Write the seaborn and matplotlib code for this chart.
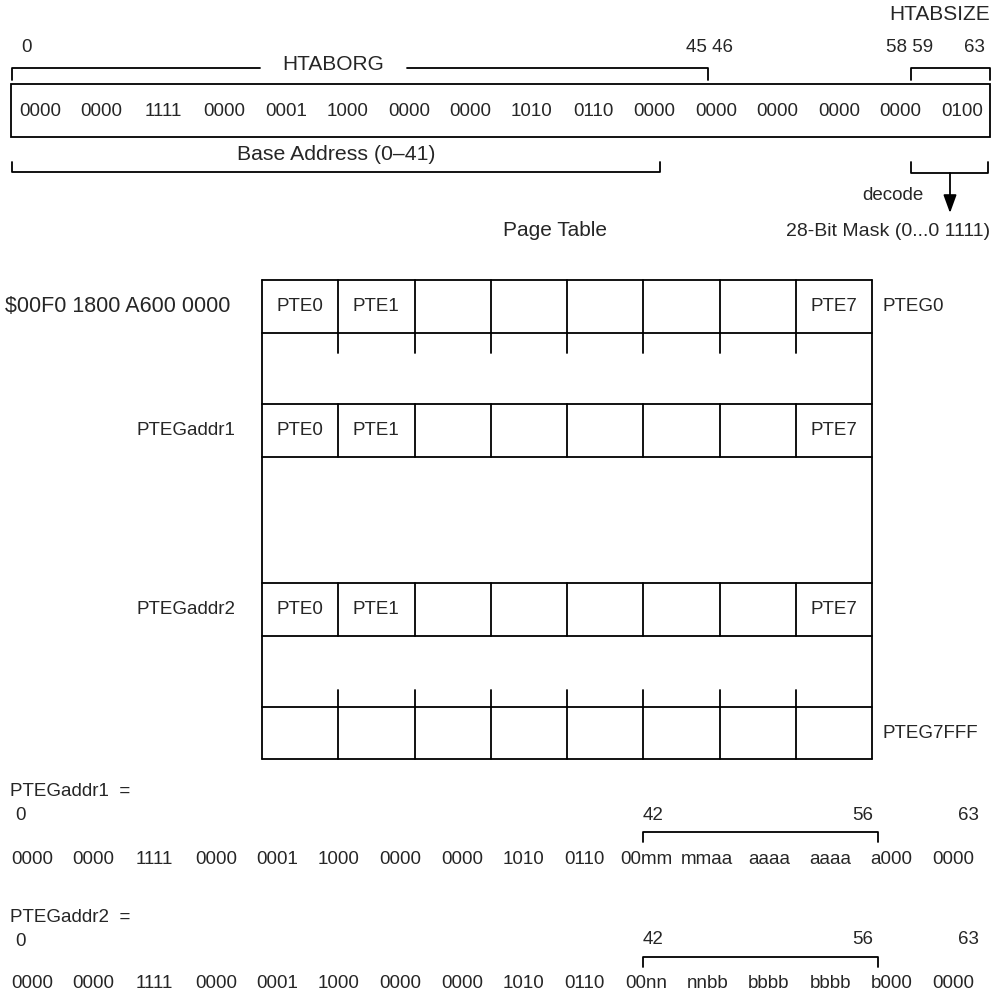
import numpy as np
import seaborn as sns
import matplotlib.pyplot as plt
from matplotlib.patches import Rectangle

# register contents (nibbles)
htab_bits = ["0000", "0000", "1111", "0000", "0001", "1000", "0000", "0000",
             "1010", "0110", "0000", "0000", "0000", "0000", "0000", "0100"]
addr1_bits = ["0000", "0000", "1111", "0000", "0001", "1000", "0000", "0000",
              "1010", "0110", "00mm", "mmaa", "aaaa", "aaaa", "a000", "0000"]
addr2_bits = ["0000", "0000", "1111", "0000", "0001", "1000", "0000", "0000",
              "1010", "0110", "00nn", "nnbb", "bbbb", "bbbb", "b000", "0000"]

# page table
pte_labels = ["PTE0", "PTE1", "", "", "", "", "", "PTE7"]
group_names = ["$00F0 1800 A600 0000", "PTEGaddr1", "PTEGaddr2", ""]
group_tags = ["PTEG0", "", "", "PTEG7FFF"]
group_has_ptes = [True, True, True, False]

sns.set_style("white")
plt.rcParams["font.family"] = ["Liberation Sans", "DejaVu Sans"]

fig = plt.figure(figsize=(9.93, 9.94), dpi=100)
ax = fig.add_axes([0, 0, 1, 1])
ax.set_xlim(0, 993)
ax.set_ylim(994, 0)
ax.axis("off")

lw = 1.3
fs = 13.5
col = "black"


def bracket(x0, x1, y, tick, gap=None):
    if gap is None:
        ax.plot([x0, x0, x1, x1], [y + tick, y, y, y + tick], color=col, lw=lw)
    else:
        ax.plot([x0, x0, gap[0]], [y + tick, y, y], color=col, lw=lw)
        ax.plot([gap[1], x1, x1], [y, y, y + tick], color=col, lw=lw)


def nibble_row(bits, x0, x1, y):
    xs = np.linspace(x0, x1, len(bits))
    for x, b in zip(xs, bits):
        ax.text(x, y, b, ha="center", va="center", fontsize=fs)


# ---- HTABORG / HTABSIZE register ----
ax.text(940, 15, "HTABSIZE", ha="center", va="center", fontsize=15)
ax.text(27, 48, "0", ha="center", va="center", fontsize=fs)
ax.text(710, 48, "45 46", ha="center", va="center", fontsize=fs)
ax.text(910, 48, "58 59", ha="center", va="center", fontsize=fs)
ax.text(974, 48, "63", ha="center", va="center", fontsize=fs)
bracket(12, 708, 68, 12, gap=(260, 407))
ax.text(333, 65, "HTABORG", ha="center", va="center", fontsize=15)
bracket(911, 990, 68, 12)

ax.add_patch(Rectangle((11, 84), 979, 53, fill=False, lw=lw, ec=col))
nibble_row(htab_bits, 40, 962, 111)

bracket(12, 660, 172, -10)
ax.text(336, 155, "Base Address (0\u201341)", ha="center", va="center", fontsize=15.3)
bracket(911, 988, 173, -11)
ax.annotate("", xy=(950, 213), xytext=(950, 173),
            arrowprops=dict(arrowstyle="-|>,head_length=0.55,head_width=0.2",
                            color=col, lw=lw, mutation_scale=20,
                            shrinkA=0, shrinkB=0))
ax.text(893, 195, "decode", ha="center", va="center", fontsize=fs)
ax.text(888, 232, "28-Bit Mask (0...0 1111)", ha="center", va="center", fontsize=14)
ax.text(555, 231, "Page Table", ha="center", va="center", fontsize=15)

# ---- page table ----
left, right = 262, 872
col_edges = np.linspace(left, right, len(pte_labels) + 1)
col_mid = (col_edges[:-1] + col_edges[1:]) / 2
row_spans = [(280, 333), (404, 457), (583, 636), (707, 759)]

ax.plot([left, left], [280, 759], color=col, lw=lw)
ax.plot([right, right], [280, 759], color=col, lw=lw)
for (top, bot), name, tag, has in zip(row_spans, group_names, group_tags, group_has_ptes):
    ax.plot([left, right], [top, top], color=col, lw=lw)
    ax.plot([left, right], [bot, bot], color=col, lw=lw)
    for x in col_edges[1:-1]:
        ax.plot([x, x], [top, bot], color=col, lw=lw)
    mid = (top + bot) / 2
    if has:
        for x, lab in zip(col_mid, pte_labels):
            ax.text(x, mid, lab, ha="center", va="center", fontsize=fs)
    if name.startswith("$"):
        ax.text(5, mid, name, ha="left", va="center", fontsize=15.5)
    elif name:
        ax.text(235, mid, name, ha="right", va="center", fontsize=fs)
    if tag:
        ax.text(883, mid, tag, ha="left", va="center", fontsize=fs)

# stubs continuing below the first group and above the last one
for x in col_edges[1:-1]:
    ax.plot([x, x], [333, 353], color=col, lw=lw)
    ax.plot([x, x], [690, 707], color=col, lw=lw)

# ---- PTEG addresses ----
for name, bits, y0 in [("PTEGaddr1  =", addr1_bits, 792), ("PTEGaddr2  =", addr2_bits, 917)]:
    ax.text(10, y0, name, ha="left", va="center", fontsize=fs)
    ax.text(20, y0 + 24, "0", ha="center", va="center", fontsize=fs)
    ax.text(653, y0 + 23, "42", ha="center", va="center", fontsize=fs)
    ax.text(863, y0 + 23, "56", ha="center", va="center", fontsize=fs)
    ax.text(968, y0 + 23, "63", ha="center", va="center", fontsize=fs)
    bracket(643, 878, y0 + 40, 10)
    nibble_row(bits, 32, 953, y0 + 67)

fig.savefig("out.png", dpi=100, facecolor="white")
